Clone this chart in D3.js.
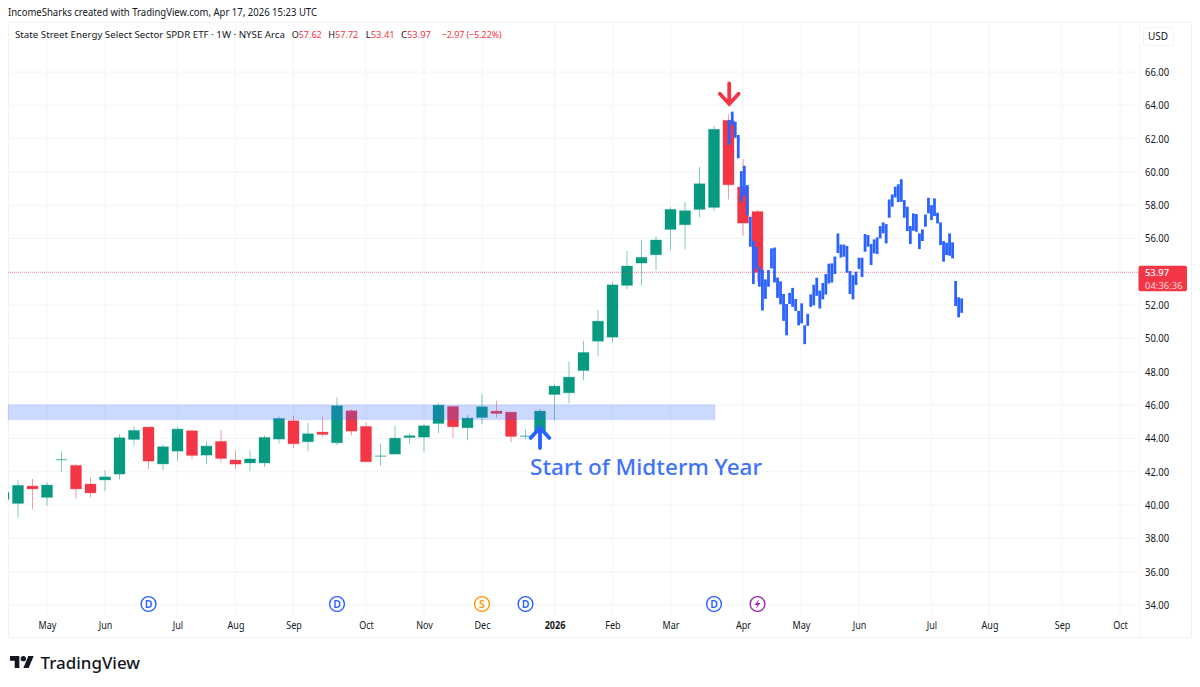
<!DOCTYPE html>
<html><head><meta charset="utf-8">
<script src="https://cdn.jsdelivr.net/npm/d3@7/dist/d3.min.js"></script>
<style>
html,body{margin:0;padding:0;background:#fff}
svg{display:block}
text{font-family:"Noto Sans",sans-serif}
</style></head><body><div id="c"></div>
<script>
// ---- candle data by week index ----
const opens =[40.35,40.10,41.14,40.46,42.70,42.38,41.26,41.51,41.86,43.94,44.68,42.47,43.24,44.46,43.00,43.82,42.70,42.53,42.53,43.96,45.06,43.80,44.38,43.74,45.66,44.72,42.90,43.06,44.06,44.08,44.90,45.92,44.64,45.26,45.64,45.58,44.10,44.44,46.64,46.74,48.08,49.84,50.08,53.19,54.53,55.03,56.55,56.83,57.75,57.87,63.10,59.09,57.62];
const highs =[41.00,41.50,41.57,41.39,43.22,42.46,41.66,42.10,44.26,44.72,44.70,43.64,44.72,44.50,43.84,44.50,43.28,43.26,44.18,45.32,45.34,44.94,45.30,46.46,45.74,44.96,43.70,44.76,44.30,44.86,46.10,45.94,45.40,46.66,46.26,45.58,44.54,45.78,47.30,48.62,49.86,51.71,53.41,55.25,55.89,56.15,57.87,58.19,60.30,62.76,63.46,60.76,57.72];
const lows  =[40.00,39.26,39.75,39.95,41.99,40.37,40.46,40.84,41.54,43.58,42.14,42.08,42.66,42.76,42.46,42.56,42.16,42.04,42.28,43.70,43.46,43.22,44.10,43.58,44.18,42.60,42.35,43.06,43.66,43.20,44.30,44.04,43.90,44.86,45.26,43.78,43.96,44.32,45.10,46.10,47.50,48.96,49.74,52.97,53.16,54.11,55.31,55.35,57.27,57.65,58.35,56.17,53.41];
const closes=[40.75,41.18,40.97,41.20,42.77,40.97,40.73,41.69,44.04,44.48,42.64,43.50,44.56,42.98,43.54,42.80,42.46,42.77,44.06,45.20,43.68,44.28,44.24,45.96,44.44,42.60,42.98,44.02,44.16,44.76,46.00,44.70,45.22,45.90,45.50,44.12,44.18,45.64,47.14,47.68,49.16,51.04,53.22,54.35,54.87,55.91,57.75,57.67,59.29,62.56,59.23,56.93,53.97];
// ---- projected bars pattern ----
const barHighs=[63.12,63.62,63.02,62.22,60.05,60.37,59.21,57.31,55.87,55.51,54.31,54.11,53.55,54.11,55.41,55.46,53.66,53.43,52.67,52.07,52.74,53.04,52.37,51.66,52.11,50.79,51.48,52.65,53.23,53.65,52.88,53.33,53.87,54.49,54.51,54.92,56.31,55.64,55.64,55.55,54.05,53.81,54.01,54.85,54.85,56.27,56.21,55.67,55.95,56.07,56.75,56.97,56.87,58.35,58.65,59.11,59.26,59.56,58.31,57.91,56.75,57.51,57.47,56.31,56.55,57.45,58.45,58.01,58.41,57.55,56.97,55.85,55.75,56.31,55.77,53.45,52.47,52.41];
const barLows =[61.62,62.82,62.05,60.82,58.21,58.57,57.41,55.51,53.27,54.21,53.11,51.68,52.38,53.11,54.21,53.37,52.44,52.05,51.06,50.19,52.07,51.90,51.65,50.79,50.91,49.66,50.76,51.90,51.99,52.56,51.80,52.35,52.64,53.30,53.36,53.87,55.13,54.86,54.91,53.95,52.67,52.35,53.21,54.17,53.69,55.21,55.51,54.41,55.11,55.07,56.01,56.31,55.71,57.25,57.91,58.47,58.19,58.21,57.25,56.45,55.67,56.47,56.41,55.37,55.85,56.71,57.51,57.11,57.35,56.91,55.61,54.61,55.01,54.97,54.81,51.95,51.27,51.54];
const barSpan=[50.05,66.08];
// ---- axes ----
const priceTicks=[34,36,38,40,42,44,46,48,50,52,54,56,58,60,62,64,66];
const priceLabels=[34,36,38,40,42,44,46,48,50,52,56,58,60,62,64,66];
const monthWeeks=[3,7,12,16,20,25,29,33,38,42,46,51,55,59,64,68,73,77];
const monthLabels=["May","Jun","Jul","Aug","Sep","Oct","Nov","Dec","2026","Feb","Mar","Apr","May","Jun","Jul","Aug","Sep","Oct"];
// ---- events and annotations ----
const eventWeeks=[10,23,33,36,49,52];
const eventKinds=["D","D","S","D","D","E"];
const zoneTop=46.02, zoneBottom=45.12, zoneEndWeek=49.07;
const lastPrice=53.97;
const downArrow={week:50.05,price:64.08};
const upArrow={week:37,price:44.65};

const W=1200,H=687;
const plot={l:8,r:1139,t:22,b:615};
const x=d3.scaleLinear().domain([0,78]).range([3.5,1134.5]);
const y=d3.scaleLinear().domain([34,66]).range([605,72]);
const barX=d3.scaleLinear().domain([0,barHighs.length-1]).range(barSpan.map(x));
const GREEN="#089981",RED="#f23645",BLUE="#2962ff",GRID="#f3f4f7",INK="#131722";

const svg=d3.select("#c").append("svg").attr("width",W).attr("height",H);
svg.append("defs").append("clipPath").attr("id","pl").append("rect")
  .attr("x",plot.l).attr("y",plot.t).attr("width",plot.r-plot.l).attr("height",plot.b-plot.t);

// squeeze text horizontally to the width seen in the reference
function squeeze(sel,k){
  sel.each(function(){
    const w=this.getComputedTextLength();
    d3.select(this).attr("textLength",w*k).attr("lengthAdjust","spacingAndGlyphs");
  });
}

// frame
const frame=svg.append("g").attr("stroke","#f1f2f6").attr("fill","none");
frame.append("rect").attr("x",8.5).attr("y",22.5).attr("width",1183).attr("height",615);
frame.append("line").attr("x1",1139.5).attr("x2",1139.5).attr("y1",22).attr("y2",637).attr("stroke","#f5f6f9");

// grid
const grid=svg.append("g").attr("clip-path","url(#pl)").attr("stroke",GRID);
grid.selectAll("line.h").data(priceTicks).join("line").attr("class","h")
  .attr("x1",plot.l).attr("x2",plot.r).attr("y1",d=>y(d)).attr("y2",d=>y(d));
grid.selectAll("line.v").data(monthWeeks).join("line").attr("class","v")
  .attr("x1",d=>x(d)).attr("x2",d=>x(d)).attr("y1",plot.t).attr("y2",plot.b);

// candles
const cg=svg.append("g").attr("clip-path","url(#pl)");
const idx=d3.range(opens.length);
const col=i=>closes[i]>=opens[i]?GREEN:RED;
const bodyH=i=>Math.abs(y(opens[i])-y(closes[i]));
cg.selectAll("line").data(idx).join("line")
  .attr("x1",i=>x(i)).attr("x2",i=>x(i)).attr("y1",i=>y(highs[i])).attr("y2",i=>y(lows[i]))
  .attr("stroke",col).attr("stroke-width",1).attr("stroke-opacity",.5);
cg.selectAll("rect").data(idx).join("rect")
  .attr("x",i=>x(i)-5.5).attr("width",11)
  .attr("y",i=>Math.min(y(opens[i]),y(closes[i])))
  .attr("height",i=>Math.max(1.4,bodyH(i)))
  .attr("fill",col).attr("fill-opacity",i=>bodyH(i)<1.5?.55:1)
  .attr("stroke",col).attr("stroke-opacity",i=>bodyH(i)<1.5?0:.3).attr("stroke-width",1);

// last price dotted line
svg.append("line").attr("x1",plot.l).attr("x2",plot.r).attr("y1",y(lastPrice)).attr("y2",y(lastPrice))
  .attr("stroke",RED).attr("stroke-opacity",.55).attr("stroke-width",1).attr("stroke-dasharray","1 1");

// zone
svg.append("rect").attr("x",plot.l).attr("width",x(zoneEndWeek)-plot.l)
  .attr("y",y(zoneTop)).attr("height",y(zoneBottom)-y(zoneTop))
  .attr("fill",BLUE).attr("fill-opacity",.24).attr("stroke",BLUE).attr("stroke-opacity",.1).attr("stroke-width",1);

// projected bars
svg.append("g").selectAll("line").data(barHighs).join("line")
  .attr("x1",(d,i)=>barX(i)).attr("x2",(d,i)=>barX(i))
  .attr("y1",d=>y(d)).attr("y2",(d,i)=>y(barLows[i]))
  .attr("stroke","#2b63ff").attr("stroke-width",2.8);

// arrows
function arrow(cx,cy,dir,color){
  const g=svg.append("g").attr("transform",`translate(${cx},${cy}) scale(1,${dir})`)
    .attr("fill","none").attr("stroke",color).attr("stroke-width",3.8).attr("stroke-linecap","round").attr("stroke-linejoin","miter");
  g.append("path").attr("d","M0,0V-20.5M-9.4,-10.3L0,0L9.4,-10.3");
}
arrow(x(downArrow.week),y(downArrow.price),1,"#f23645");
arrow(x(upArrow.week),y(upArrow.price),-1,BLUE);

svg.append("text").attr("x",530).attr("y",475).attr("fill","#3f74f8")
  .attr("font-size",22).attr("font-weight",500).attr("textLength",232).attr("lengthAdjust","spacingAndGlyphs")
  .text("Start of Midterm Year");

// axes
const ya=svg.append("g").attr("transform",`translate(${plot.r},0)`)
  .call(d3.axisRight(y).tickValues(priceLabels).tickFormat(d3.format(".2f")).tickSize(0).tickPadding(6));
ya.select(".domain").remove();
ya.selectAll("text").attr("font-size",10.5).attr("fill",INK).attr("font-family","Noto Sans").call(squeeze,.9);
const xa=svg.append("g").attr("transform",`translate(0,${plot.b})`)
  .call(d3.axisBottom(x).tickValues(monthWeeks).tickFormat((d,i)=>monthLabels[i]).tickSize(0).tickPadding(7));
xa.select(".domain").remove();
xa.selectAll("text").attr("font-size",10.5).attr("fill",INK).attr("font-family","Noto Sans")
  .attr("font-weight",(d,i)=>monthLabels[i]==="2026"?700:400).call(squeeze,.86);

// events
const ecol={D:BLUE,S:"#ff9800",E:"#9c27b0"};
const ev=svg.append("g").selectAll("g").data(eventWeeks).join("g")
  .attr("transform",d=>`translate(${x(d)},604)`);
ev.append("circle").attr("r",7.4).attr("fill","#fff").attr("stroke",(d,i)=>ecol[eventKinds[i]]).attr("stroke-width",1.4);
ev.filter((d,i)=>eventKinds[i]!=="E").append("text")
  .attr("text-anchor","middle").attr("dy","0.36em").attr("font-size",10.5).attr("font-weight",600)
  .attr("fill",d=>ecol[eventKinds[eventWeeks.indexOf(d)]])
  .text(d=>eventKinds[eventWeeks.indexOf(d)]);
ev.filter((d,i)=>eventKinds[i]==="E").append("path")
  .attr("d","M1.6,-4.6L-3,0.9H-0.3L-1.6,4.6L3,-0.9H0.3Z").attr("fill",ecol.E);

// price tag
svg.append("rect").attr("x",1138.5).attr("y",y(lastPrice)-6.5).attr("width",48.5).attr("height",25.5).attr("rx",2)
  .attr("fill",RED);
svg.append("text").attr("x",1145).attr("y",276.3).attr("font-size",9.5).attr("font-weight",500).attr("fill","#fff")
  .attr("textLength",24).attr("lengthAdjust","spacingAndGlyphs").text(lastPrice.toFixed(2));
svg.append("text").attr("x",1145).attr("y",288.6).attr("font-size",9).attr("fill","#fff").attr("fill-opacity",.8)
  .attr("textLength",37.7).attr("lengthAdjust","spacingAndGlyphs").text("04:36:36");

// USD button
svg.append("rect").attr("x",1143.5).attr("y",27.5).attr("width",30).attr("height",18).attr("rx",3).attr("fill","#fff").attr("stroke","#f1f2f6");
svg.append("text").attr("x",1148).attr("y",40).attr("font-size",10).attr("fill",INK).text("USD");

// header
const FS=9.6;
svg.append("text").attr("x",8).attr("y",16).attr("font-size",10).attr("fill",INK)
  .attr("textLength",309).attr("lengthAdjust","spacingAndGlyphs")
  .text("IncomeSharks created with TradingView.com, Apr 17, 2026 15:23 UTC");
svg.append("text").attr("x",15).attr("y",38).attr("font-size",FS).attr("fill",INK)
  .attr("textLength",270).attr("lengthAdjust","spacingAndGlyphs")
  .text("State Street Energy Select Sector SPDR ETF · 1W · NYSE Arca");
const legend=[["O","57.62",291.7,30],["H","57.72",328.3,30],["L","53.41",365.7,29],["C","53.97",401,30]];
const lg=svg.append("g").selectAll("text").data(legend).join("text")
  .attr("x",d=>d[2]).attr("y",38).attr("font-size",FS)
  .attr("textLength",d=>d[3]).attr("lengthAdjust","spacingAndGlyphs");
lg.append("tspan").attr("fill",INK).text(d=>d[0]);
lg.append("tspan").attr("fill",RED).text(d=>d[1]);
svg.append("text").attr("x",441.7).attr("y",38).attr("font-size",FS).attr("fill",RED)
  .attr("textLength",60).attr("lengthAdjust","spacingAndGlyphs").text("−2.97 (−5.22%)");

// logo
const logo=svg.append("g").attr("transform","translate(10,653.3) scale(0.667)").attr("fill",INK);
logo.append("path").attr("d","M14 22H7V11H0V4h14v18zM28 22h-8l7.5-18h8L28 22z");
logo.append("circle").attr("cx",20).attr("cy",8).attr("r",4);
svg.append("text").attr("x",40.5).attr("y",668.5).attr("font-family","Inter").attr("font-weight",500)
  .attr("font-size",17).attr("fill",INK).attr("textLength",99.5).attr("lengthAdjust","spacingAndGlyphs").text("TradingView");
</script></body></html>
